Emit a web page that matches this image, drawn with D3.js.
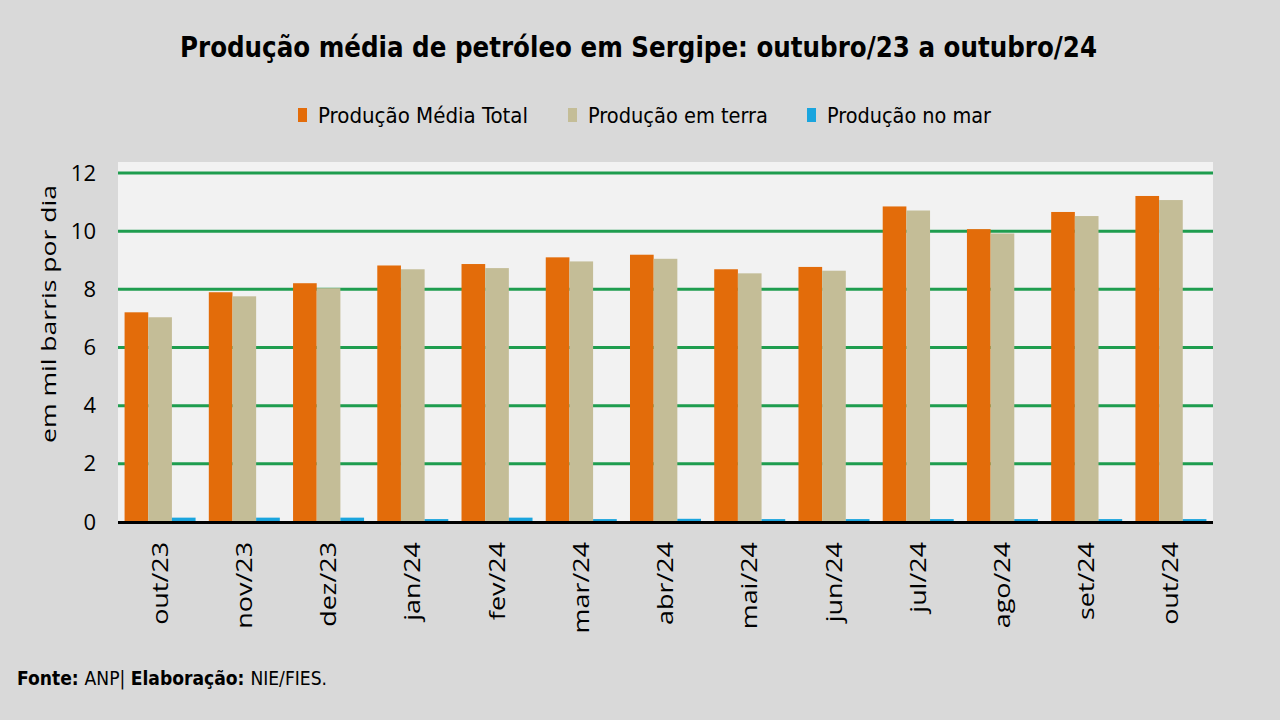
<!DOCTYPE html>
<html>
<head>
<meta charset="utf-8">
<script src="https://cdn.jsdelivr.net/npm/d3@7"></script>
<style>
  html, body { margin: 0; padding: 0; background: #d9d9d9; }
  svg { display: block; }
</style>
</head>
<body>
<svg width="1280" height="720"></svg>
<script>
// Data set
var months = ["out/23", "nov/23", "dez/23", "jan/24", "fev/24", "mar/24", "abr/24",
              "mai/24", "jun/24", "jul/24", "ago/24", "set/24", "out/24"];
var total = [7.21, 7.90, 8.21, 8.82, 8.87, 9.10, 9.19, 8.69, 8.77, 10.85, 10.07, 10.66, 11.21];
var terra = [7.04, 7.76, 8.04, 8.69, 8.73, 8.96, 9.05, 8.55, 8.64, 10.71, 9.92, 10.52, 11.07];
var mar   = [0.15, 0.15, 0.15, 0.10, 0.15, 0.10, 0.11, 0.10, 0.10, 0.10, 0.10, 0.10, 0.10];
var seriesNames = ["Produção Média Total", "Produção em terra", "Produção no mar"];
var seriesColors = ["#e36c0a", "#c4bd97", "#1aa5de"];
var yTicks = [0, 2, 4, 6, 8, 10, 12];

var series = [total, terra, mar];
var condensed = "'Liberation Sans Narrow', 'DejaVu Sans Condensed', 'Noto Sans', sans-serif";
var plain = "'Open Sans', 'Noto Sans', sans-serif";
// the reference is stretched vertically, rotated texts run longer
var stretch = 1.28;

var svg = d3.select("svg");

// Scales
var plotLeft = 118, plotRight = 1213, plotTop = 173, plotBottom = 522;

var xScale = d3.scaleBand()
  .domain(months)
  .range([plotLeft, plotRight])
  .paddingInner(0.157)
  .paddingOuter(0.078);

var xInner = d3.scaleBand()
  .domain(seriesNames)
  .range([0, xScale.bandwidth()]);

var yScale = d3.scaleLinear()
  .domain([0, 12])
  .range([plotBottom, plotTop]);

// Plot background
svg.append("rect")
  .attr("x", plotLeft)
  .attr("y", 162)
  .attr("width", plotRight - plotLeft)
  .attr("height", plotBottom - 162)
  .attr("fill", "#f2f2f2");

// Gridlines
svg.append("g")
  .selectAll("line")
  .data(yTicks.filter(function(d) { return d > 0; }))
  .enter()
  .append("line")
  .attr("x1", plotLeft)
  .attr("x2", plotRight)
  .attr("y1", function(d) { return yScale(d); })
  .attr("y2", function(d) { return yScale(d); })
  .attr("stroke", "#1f9d4f")
  .attr("stroke-width", 3);

// Bars
var groups = svg.append("g")
  .selectAll("g")
  .data(months)
  .enter()
  .append("g")
  .attr("transform", function(d) { return "translate(" + xScale(d) + ",0)"; });

groups.selectAll("rect")
  .data(function(d, i) {
    return series.map(function(s, k) { return {key: seriesNames[k], value: s[i], color: seriesColors[k]}; });
  })
  .enter()
  .append("rect")
  .attr("x", function(d) { return xInner(d.key); })
  .attr("y", function(d) { return yScale(d.value); })
  .attr("width", xInner.bandwidth())
  .attr("height", function(d) { return yScale(0) - yScale(d.value); })
  .attr("fill", function(d) { return d.color; });

// Baseline
svg.append("line")
  .attr("x1", plotLeft)
  .attr("x2", plotRight)
  .attr("y1", yScale(0) + 0.5)
  .attr("y2", yScale(0) + 0.5)
  .attr("stroke", "#000")
  .attr("stroke-width", 3);

// Y axis labels
var yAxis = d3.axisLeft(yScale).tickValues(yTicks).tickSize(0).tickPadding(0);
var yg = svg.append("g")
  .attr("transform", "translate(96,0)")
  .call(yAxis);
yg.select(".domain").remove();
yg.selectAll("text")
  .attr("font-family", plain)
  .attr("font-size", 22)
  .attr("fill", "#000");

// Y axis title
var ytitle = svg.append("text")
  .attr("transform", "translate(56,314) rotate(-90)")
  .attr("text-anchor", "middle")
  .attr("font-family", plain)
  .attr("font-size", 20)
  .attr("fill", "#000")
  .text("em mil barris por dia");
ytitle.attr("textLength", 258).attr("lengthAdjust", "spacingAndGlyphs");

// X axis labels
var xAxis = d3.axisBottom(xScale).tickSize(0).tickPadding(0);
var xg = svg.append("g")
  .attr("transform", "translate(0," + 542 + ")")
  .call(xAxis);
xg.select(".domain").remove();
xg.selectAll("text")
  .attr("font-family", plain)
  .attr("font-size", 21)
  .attr("fill", "#000")
  .attr("text-anchor", "end")
  .attr("transform", "rotate(-90)")
  .attr("x", 0)
  .attr("y", 0)
  .attr("dy", "0.36em")
  .each(function() {
    var len = this.getComputedTextLength();
    d3.select(this)
      .attr("textLength", len * stretch)
      .attr("lengthAdjust", "spacingAndGlyphs");
  });

// Title
svg.append("text")
  .attr("x", 180)
  .attr("y", 57)
  .attr("font-family", condensed)
  .attr("font-weight", "bold")
  .attr("font-size", 28)
  .attr("textLength", 917)
  .attr("lengthAdjust", "spacingAndGlyphs")
  .attr("fill", "#000")
  .text("Produção média de petróleo em Sergipe: outubro/23 a outubro/24");

// Legend
var legendX = [298, 568, 807];
var legendW = [210, 180, 164];
var legend = svg.append("g")
  .selectAll("g")
  .data(seriesNames)
  .enter()
  .append("g")
  .attr("transform", function(d, i) { return "translate(" + legendX[i] + ",115)"; });

legend.append("rect")
  .attr("x", 0)
  .attr("y", -7)
  .attr("width", 9)
  .attr("height", 14)
  .attr("fill", function(d, i) { return seriesColors[i]; });

legend.append("text")
  .attr("x", 20)
  .attr("y", 0)
  .attr("dy", "0.35em")
  .attr("font-family", condensed)
  .attr("font-size", 22)
  .attr("textLength", function(d, i) { return legendW[i]; })
  .attr("lengthAdjust", "spacingAndGlyphs")
  .attr("fill", "#000")
  .text(function(d) { return d; });

// Footer
var foot = svg.append("text")
  .attr("x", 17)
  .attr("y", 685)
  .attr("font-family", condensed)
  .attr("font-size", 19)
  .attr("textLength", 310)
  .attr("lengthAdjust", "spacingAndGlyphs")
  .attr("fill", "#000");
foot.append("tspan").attr("font-weight", "bold").text("Fonte: ");
foot.append("tspan").text("ANP| ");
foot.append("tspan").attr("font-weight", "bold").text("Elaboração: ");
foot.append("tspan").text("NIE/FIES.");
</script>
</body>
</html>
